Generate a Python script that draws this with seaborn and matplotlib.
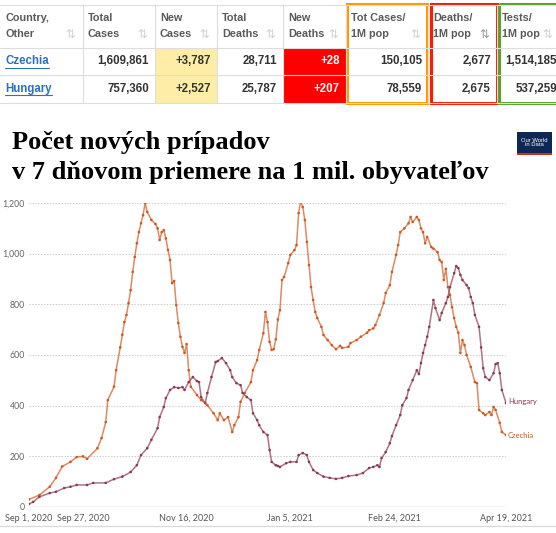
import matplotlib
matplotlib.use("Agg")
import matplotlib.pyplot as plt
from matplotlib.patches import Rectangle
import seaborn as sns
import pandas as pd

# tabuľka z worldometers
headers_top = ["Country,", "Total", "New", "Total", "New", "Tot Cases/", "Deaths/", "Tests/"]
headers_bot = ["Other", "Cases", "Cases", "Deaths", "Deaths", "1M pop", "1M pop", "1M pop"]
countries = ["Czechia", "Hungary"]
total_cases = ["1,609,861", "757,360"]
new_cases = ["+3,787", "+2,527"]
total_deaths = ["28,711", "25,787"]
new_deaths = ["+28", "+207"]
cases_per_m = ["150,105", "78,559"]
deaths_per_m = ["2,677", "2,675"]
tests_per_m = ["1,514,185", "537,259"]

# nove pripady na 1 mil. (7-dnovy priemer), dni od 1.9.2020
cz_day = [0, 5, 10, 13, 16, 20, 23, 26, 28, 33,
          35, 37, 38, 41, 42, 44, 45, 46, 47, 48,
          49, 50, 51, 52, 53, 54, 55, 56, 57, 59,
          61, 62, 63, 64, 65, 66, 67, 68, 69, 70,
          71, 72, 73, 74, 75, 76, 77, 78, 81, 83,
          86, 89, 91, 92, 94, 96, 98, 99, 101, 102,
          104, 107, 108, 110, 111, 113, 114, 115, 116, 117,
          118, 119, 120, 121, 122, 123, 125, 126, 128, 129,
          130, 131, 132, 133, 134, 135, 136, 137, 138, 139,
          141, 142, 144, 146, 148, 150, 151, 154, 155, 158,
          160, 163, 164, 166, 167, 169, 171, 172, 174, 175,
          177, 178, 179, 181, 183, 184, 185, 187, 188, 189,
          190, 191, 192, 194, 195, 197, 198, 199, 200, 201,
          202, 203, 204, 205, 206, 207, 208, 209, 210, 211,
          213, 215, 216, 217, 219, 220, 222, 223, 224, 225,
          227, 228, 230]
cz_val = [30, 47, 80, 115, 160, 178, 197, 200, 190, 232,
          272, 335, 422, 475, 540, 630, 680, 730, 758, 805,
          856, 928, 987, 1041, 1085, 1120, 1152, 1200, 1165, 1133,
          1117, 1100, 1054, 1085, 1093, 1060, 1015, 975, 884, 892,
          797, 726, 672, 632, 608, 643, 540, 475, 442, 422,
          402, 370, 343, 370, 343, 355, 296, 323, 355, 415,
          450, 493, 540, 580, 620, 686, 770, 730, 652, 620,
          623, 662, 740, 777, 896, 908, 963, 995, 1014, 1034,
          1160, 1208, 1184, 1133, 1046, 955, 868, 817, 770, 746,
          711, 679, 659, 639, 623, 636, 628, 632, 647, 659,
          672, 688, 698, 705, 718, 758, 805, 845, 876, 928,
          995, 1034, 1085, 1100, 1120, 1145, 1125, 1145, 1133, 1100,
          1085, 1041, 1066, 1026, 1020, 1006, 975, 967, 896, 940,
          868, 837, 789, 746, 711, 688, 608, 659, 639, 600,
          553, 493, 489, 383, 370, 363, 375, 363, 395, 383,
          332, 296, 284]
hu_day = [0, 2, 5, 10, 13, 17, 20, 23, 28, 31,
          37, 41, 45, 49, 52, 54, 57, 59, 62, 63,
          65, 66, 68, 70, 72, 74, 75, 77, 79, 81,
          82, 83, 85, 86, 88, 90, 91, 93, 95, 97,
          98, 100, 102, 103, 105, 107, 108, 110, 111, 113,
          115, 116, 117, 119, 120, 121, 124, 126, 129, 130,
          132, 134, 135, 137, 139, 142, 145, 148, 151, 154,
          158, 161, 164, 166, 168, 169, 170, 172, 174, 175,
          177, 179, 180, 182, 183, 185, 187, 188, 189, 190,
          191, 192, 193, 195, 196, 198, 199, 201, 202, 203,
          205, 206, 207, 208, 209, 211, 212, 213, 214, 215,
          217, 218, 219, 220, 222, 224, 225, 226, 227, 228,
          230]
hu_val = [12, 20, 40, 55, 60, 75, 80, 87, 87, 95,
          95, 110, 120, 138, 165, 205, 232, 265, 311, 355,
          395, 430, 462, 473, 470, 473, 462, 493, 513, 497,
          493, 434, 410, 450, 513, 572, 576, 588, 568, 540,
          513, 489, 481, 450, 434, 422, 370, 343, 323, 296,
          284, 225, 178, 165, 162, 158, 173, 178, 178, 205,
          213, 205, 178, 146, 134, 120, 115, 111, 115, 122,
          126, 134, 154, 158, 165, 158, 193, 217, 252, 280,
          323, 363, 402, 430, 462, 501, 540, 525, 568, 608,
          639, 672, 711, 817, 785, 738, 766, 805, 829, 868,
          923, 951, 943, 916, 896, 876, 864, 829, 805, 758,
          711, 630, 548, 513, 501, 528, 564, 568, 528, 462,
          410]

t0 = pd.Timestamp("2020-09-01")
df = pd.concat([
    pd.DataFrame({"date": t0 + pd.to_timedelta(cz_day, unit="D"), "value": cz_val, "country": "Czechia"}),
    pd.DataFrame({"date": t0 + pd.to_timedelta(hu_day, unit="D"), "value": hu_val, "country": "Hungary"}),
])
colors = {"Czechia": "#d0581f", "Hungary": "#8a3a50"}

sns.set_theme(style="white")
plt.rcParams["font.family"] = ["Liberation Sans", "DejaVu Sans"]

W, H = 556, 533
fig = plt.figure(figsize=(W / 100, H / 100), dpi=100)
bg = fig.add_axes([0, 0, 1, 1])
bg.set_xlim(0, W)
bg.set_ylim(H, 0)
bg.axis("off")

# --- tabulka ---
col_x = [0, 83, 155, 217, 283, 346, 428, 497, 560]
row_y = [5, 48, 75, 103]
grid_c = "#dddddd"
for r in range(2):
    bg.add_patch(Rectangle((col_x[2], row_y[r + 1]), col_x[3] - col_x[2], row_y[r + 2] - row_y[r + 1],
                           color="#fdeda6", lw=0))
    bg.add_patch(Rectangle((col_x[4], row_y[r + 1]), col_x[5] - col_x[4], row_y[r + 2] - row_y[r + 1],
                           color="#ff0000", lw=0))
for y in row_y:
    bg.plot([0, W], [y, y], color=grid_c, lw=0.8)
for x in col_x[1:-1]:
    bg.plot([x, x], [row_y[0], row_y[-1]], color=grid_c, lw=0.8)

for i in range(8):
    x0 = col_x[i] + 5
    bg.text(x0, 18, headers_top[i], fontsize=7.8, fontweight="bold", color="#5a5a5a", va="center")
    bg.text(x0, 34, headers_bot[i], fontsize=7.8, fontweight="bold", color="#5a5a5a", va="center")
    ic = "#9a9a9a" if i == 6 else "#d0d0d0"
    bg.text(col_x[i + 1] - 8, 34, "⇅", fontsize=8.5, color=ic, va="center", ha="right",
            family="DejaVu Sans")

cols = [total_cases, new_cases, total_deaths, new_deaths, cases_per_m, deaths_per_m, tests_per_m]
for r in range(2):
    yc = (row_y[r + 1] + row_y[r + 2]) / 2
    t = bg.text(5, yc, countries[r], fontsize=8.3, fontweight="bold", color="#2b70c2", va="center")
    for j, vals in enumerate(cols):
        c = "white" if j == 3 else "#333333"
        xr = col_x[j + 2] - 6 if j < 6 else 557
        bg.text(xr, yc, vals[r], fontsize=8.3, fontweight="bold", color=c, va="center", ha="right")
    fig.canvas.draw()
    bb = t.get_window_extent().transformed(bg.transData.inverted())
    bg.plot([bb.x0, bb.x1], [yc + 6, yc + 6], color="#2b70c2", lw=0.8)

bg.add_patch(Rectangle((347, 4), 80, 99, fill=False, ec="#ff9a00", lw=2.2))
bg.add_patch(Rectangle((431, 4), 66, 99, fill=False, ec="#ff1a00", lw=2.2))
bg.add_patch(Rectangle((499, 4), 62, 99, fill=False, ec="#5aa02c", lw=2.2))

# --- nadpis ---
bg.text(12, 142, "Počet nových prípadov", fontsize=19, fontweight="bold",
        family="Liberation Serif", color="black", va="center")
bg.text(12, 172, "v 7 dňovom priemere na 1 mil. obyvateľov", fontsize=19, fontweight="bold",
        family="Liberation Serif", color="black", va="center")

# logo OWID
bg.add_patch(Rectangle((517, 132), 35, 21, color="#0d2855", lw=0))
bg.add_patch(Rectangle((517, 153), 35, 2, color="#d42b21", lw=0))
bg.text(534.5, 142.5, "Our World\nin Data", fontsize=4.2, color="white", ha="center", va="center",
        linespacing=1.0)

bg.plot([0, W], [526, 526], color="#d9d9d9", lw=0.9)

# --- graf ---
ax = fig.add_axes([29 / W, 26 / H, 477 / W, 304 / H])
sns.lineplot(data=df, x="date", y="value", hue="country", palette=colors, lw=1.1, alpha=0.7,
             legend=False, ax=ax)
sns.scatterplot(data=df, x="date", y="value", hue="country", palette=colors, s=3.5, lw=0,
                legend=False, ax=ax)
ax.set_xlim(pd.Timestamp("2020-09-01"), pd.Timestamp("2021-04-19"))
ax.set_ylim(0, 1200)
ax.set_xlabel("")
ax.set_ylabel("")
for s in ax.spines.values():
    s.set_visible(False)
ax.axhline(0, color="#cccccc", lw=1, zorder=0)
ax.set_yticks([0, 200, 400, 600, 800, 1000, 1200])
ax.set_yticklabels(["0", "200", "400", "600", "800", "1,000", "1,200"])
for v in [200, 400, 600, 800, 1000, 1200]:
    ax.axhline(v, color="#cccccc", lw=0.7, ls=(0, (1.5, 1.5)), zorder=0)
ticks = pd.to_datetime(["2020-09-01", "2020-09-27", "2020-11-16", "2021-01-05", "2021-02-24", "2021-04-19"])
ax.set_xticks(ticks)
ax.set_xticklabels(["Sep 1, 2020", "Sep 27, 2020", "Nov 16, 2020", "Jan 5, 2021", "Feb 24, 2021", "Apr 19, 2021"])
ax.tick_params(axis="y", length=0, pad=3, labelsize=6.3, labelcolor="#666666")
ax.tick_params(axis="x", length=3, width=0.6, color="#cccccc", pad=2, labelsize=6.5, labelcolor="#555555")
for lab in ax.get_xticklabels() + ax.get_yticklabels():
    lab.set_family("Lato")

ax.text(1.004, 415 / 1200, "Hungary", transform=ax.transAxes, fontsize=5.5, color=colors["Hungary"],
        va="center", family="Lato")
ax.text(1.004, 284 / 1200, "Czechia", transform=ax.transAxes, fontsize=5.5, color=colors["Czechia"],
        va="center", family="Lato")

fig.savefig("out.png", dpi=100)
